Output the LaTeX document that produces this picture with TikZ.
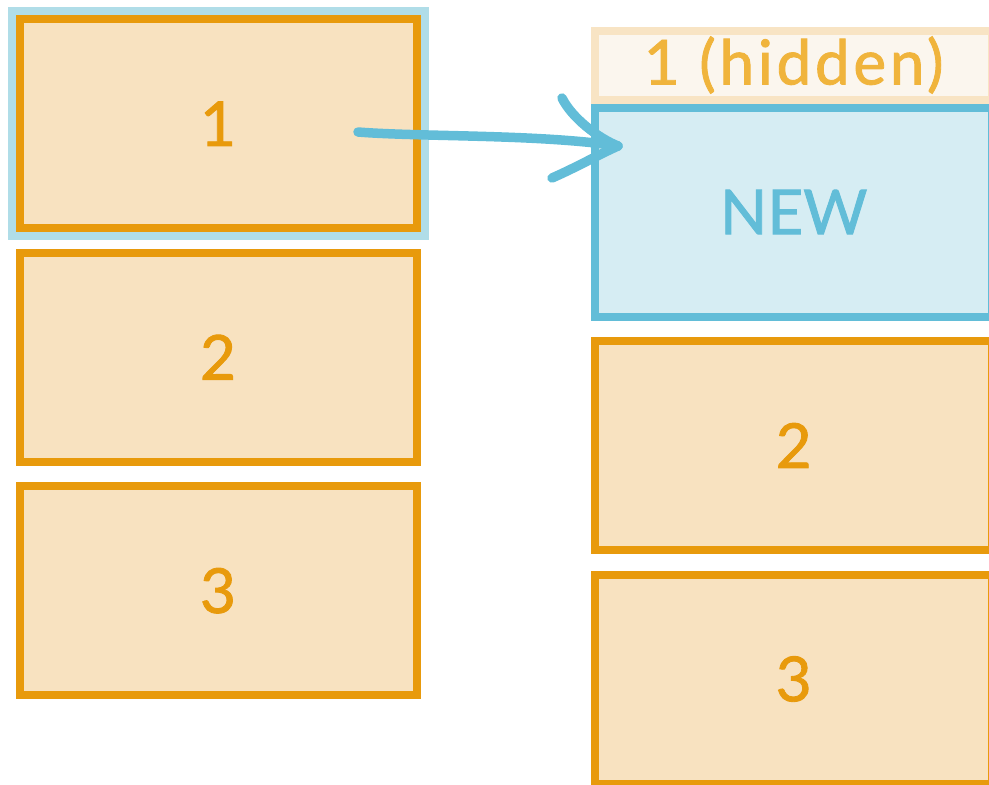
\documentclass[tikz,border=0pt]{standalone}
\usepackage{fontspec}
\setmainfont{Lato}
\newfontfamily\slotfont{Lato}[FakeBold=1.4]
\usetikzlibrary{positioning,fit,backgrounds}
\definecolor{slotedge}{HTML}{E89A0C}
\definecolor{slotfill}{HTML}{F8E2C0}
\definecolor{newedge}{HTML}{62BDD8}
\definecolor{newfill}{HTML}{D6EDF3}
\definecolor{hidedge}{HTML}{F8E4C4}
\definecolor{hidfill}{HTML}{FBF6EE}
\definecolor{hidtext}{HTML}{F0B43C}
\definecolor{glowfill}{HTML}{B0DDE8}
\tikzstyle{slot} = [rectangle, draw=slotedge, fill=slotfill, text=slotedge, line width=8pt, minimum width=397pt, minimum height=209pt, inner sep=0pt, font=\slotfont\fontsize{62}{62}\selectfont]
\tikzstyle{newslot} = [slot, draw=newedge, fill=newfill, text=newedge]
\tikzstyle{hiddenslot} = [slot, draw=hidedge, fill=hidfill, text=hidtext, minimum height=69pt, font=\slotfont\fontsize{62}{62}\selectfont\addfontfeatures{LetterSpace=6}]
\tikzstyle{glow} = [fill=glowfill, inner sep=8pt]
\tikzstyle{pen} = [draw=newedge, line width=9.5pt, line cap=round, line join=round]

\begin{document}
\begin{tikzpicture}[x=1pt, y=-1pt, node distance=16.5pt]
    \useasboundingbox (0,0) rectangle (989,785);
    \clip (0,0) rectangle (989,785);

    \node (box1) [slot] at (218,123.7) {1};
    \node (box2) [slot, below=of box1] {2};
    \node (box3) [slot, below=of box2] {3};

    \node (new) [newslot] at (793.7,212) {NEW};
    \node (hidden) [hiddenslot, above=0pt of new] {\raisebox{3pt}{1 (hidden)}};
    \node (rbox2) [slot, below=of new] {2};
    \node (rbox3) [slot, below=of rbox2] {3};

    \begin{scope}[on background layer]
        \node (glow) [glow, fit=(box1)] {};
    \end{scope}

    \coordinate (tail) at (358,132);
    \coordinate (tip) at (618,146);
    \coordinate (barbup) at (562,98);
    \coordinate (barbdown) at (552,178);

    \draw [pen] (tail) .. controls (420,137) and (540,134) .. (tip);
    \draw [pen] (barbup) .. controls (572,118) and (598,138) .. (tip);
    \draw [pen] (barbdown) .. controls (575,168) and (598,155) .. (tip);
\end{tikzpicture}
\end{document}
